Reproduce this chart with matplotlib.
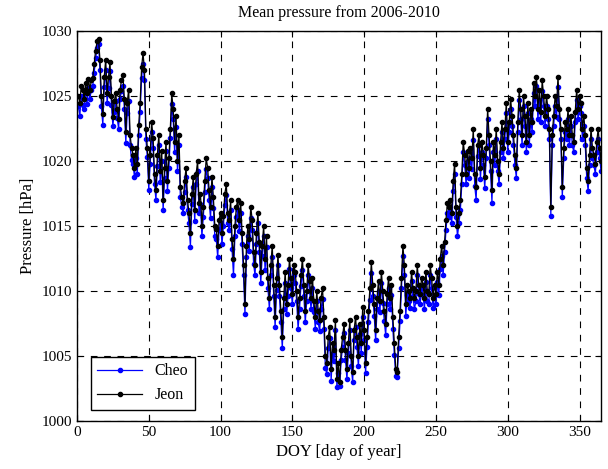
import numpy as np
import matplotlib
matplotlib.use('Agg')
import matplotlib.pyplot as plt

# daily mean pressure (hPa), day 1..366
jeon = [
    1025.0, 1024.5, 1025.8, 1025.5, 1024.8, 1026.0, 1025.2, 1026.3, 1025.5, 1026.2,
    1026.4, 1027.5, 1028.5, 1029.2, 1029.4, 1027.8, 1025.0, 1023.6, 1026.5, 1027.8,
    1025.2, 1026.5, 1027.6, 1025.0, 1023.4, 1024.6, 1025.2, 1024.0, 1023.2, 1025.5,
    1026.2, 1026.6, 1024.8, 1022.2, 1024.5, 1025.5, 1022.0, 1021.0, 1020.5, 1019.5,
    1021.0, 1019.8, 1022.8, 1024.5, 1027.2, 1028.3, 1027.0, 1022.5, 1021.0, 1018.5,
    1020.5, 1023.0, 1021.8, 1019.0, 1017.8, 1020.5, 1022.0, 1019.2, 1020.8, 1017.0,
    1019.5, 1021.5, 1018.5, 1020.2, 1022.5, 1025.2, 1024.0, 1021.5, 1023.5, 1020.0,
    1022.0, 1018.0, 1017.2, 1016.8, 1018.5, 1019.5, 1017.0, 1016.0, 1014.5, 1017.5,
    1018.8, 1016.2, 1019.0, 1020.0, 1016.8, 1017.5, 1015.0, 1016.5, 1018.5, 1020.2,
    1019.5, 1017.8, 1016.5, 1018.8, 1017.2, 1015.0, 1014.8, 1013.5, 1015.5, 1016.0,
    1014.5, 1015.8, 1017.5, 1018.2, 1016.0, 1015.5, 1017.0, 1014.0, 1012.5, 1015.0,
    1016.5, 1017.0, 1015.5, 1016.8, 1014.5, 1012.0, 1009.0, 1013.5, 1015.0, 1014.0,
    1016.5, 1015.5, 1013.0, 1012.0, 1014.5, 1016.0, 1013.8, 1011.5, 1013.5, 1015.0,
    1012.5, 1014.2, 1011.0, 1009.5, 1012.0, 1013.5, 1010.5, 1008.0, 1011.0, 1012.8,
    1010.5, 1008.5, 1006.5, 1009.5, 1011.5, 1009.0, 1010.5, 1012.5, 1011.0, 1009.8,
    1012.0, 1011.5, 1010.0, 1008.0, 1009.5, 1011.2, 1012.5, 1010.5, 1008.5, 1010.0,
    1012.0, 1010.8, 1009.5, 1011.0, 1009.2, 1008.0, 1010.0, 1008.5, 1007.8, 1009.5,
    1010.2, 1008.0, 1005.0, 1004.5, 1006.5, 1007.2, 1004.0, 1006.0, 1005.5, 1007.8,
    1003.2, 1004.5, 1003.0, 1005.5, 1006.5, 1007.5, 1005.5, 1004.0, 1006.0, 1007.8,
    1005.0, 1003.8, 1007.0, 1008.0, 1006.5, 1005.0, 1007.5, 1006.0, 1008.8, 1007.0,
    1004.5, 1006.5, 1008.5, 1010.2, 1012.2, 1010.5, 1009.0, 1007.0, 1009.5, 1010.8,
    1009.2, 1011.5, 1010.0, 1008.5, 1007.5, 1009.8, 1011.0, 1009.5, 1010.5, 1008.0,
    1006.0, 1004.0, 1003.8, 1006.5, 1008.5, 1011.0, 1013.5, 1012.0, 1009.0, 1010.5,
    1010.0, 1009.5, 1011.5, 1010.2, 1009.5, 1010.0, 1012.0, 1010.5, 1009.8, 1011.0,
    1010.5, 1009.5, 1011.5, 1010.0, 1009.8, 1012.0, 1011.0, 1009.5, 1010.5, 1009.8,
    1011.5, 1010.5, 1012.5, 1013.5, 1012.0, 1013.8, 1015.5, 1016.8, 1016.5, 1017.0,
    1016.0, 1018.5, 1019.8, 1016.5, 1015.0, 1016.0, 1017.0, 1019.0, 1021.5, 1020.5,
    1019.0, 1020.8, 1019.5, 1021.0, 1020.2, 1022.5, 1019.0, 1018.0, 1021.2, 1022.0,
    1019.5, 1021.5, 1020.5, 1018.8, 1021.0, 1024.0, 1022.0, 1020.0, 1017.8, 1021.5,
    1020.5, 1022.5, 1020.0, 1019.0, 1021.5, 1023.0, 1021.0, 1022.5, 1024.5, 1021.5,
    1023.0, 1024.8, 1023.5, 1022.0, 1020.5, 1019.5, 1023.0, 1025.5, 1024.0, 1022.0,
    1025.0, 1023.5, 1021.5, 1024.5, 1022.0, 1024.0, 1023.0, 1026.0, 1025.0, 1026.5,
    1024.0, 1025.5, 1023.8, 1026.2, 1025.0, 1023.5, 1025.0, 1024.0, 1022.5, 1016.5,
    1022.0, 1023.5, 1025.0, 1024.2, 1026.5, 1024.0, 1022.5, 1018.0, 1021.0, 1023.0,
    1022.5, 1024.0, 1022.0, 1023.5, 1022.0, 1021.5, 1023.8, 1025.5, 1024.0, 1025.0,
    1024.5, 1022.5, 1023.5, 1022.0, 1019.5, 1018.5, 1020.5, 1022.5, 1021.0, 1020.5,
    1019.8, 1021.5, 1022.5, 1021.0, 1020.0, 1022.5,
]

cheo = [
    1024.2, 1023.5, 1025.0, 1024.3, 1024.0, 1025.2, 1024.4, 1025.6, 1024.8, 1025.5,
    1025.8, 1026.8, 1027.9, 1028.7, 1029.0, 1027.0, 1024.2, 1022.8, 1025.7, 1027.0,
    1024.5, 1025.6, 1026.9, 1024.3, 1022.7, 1023.8, 1024.6, 1023.3, 1022.5, 1024.8,
    1025.4, 1025.8, 1024.0, 1021.4, 1023.7, 1024.6, 1021.2, 1020.1, 1019.8, 1018.8,
    1020.2, 1019.0, 1022.0, 1023.8, 1026.4, 1027.5, 1026.2, 1021.7, 1020.3, 1017.8,
    1019.8, 1022.2, 1021.0, 1018.2, 1017.0, 1019.6, 1021.2, 1018.4, 1020.0, 1016.2,
    1018.7, 1020.8, 1017.7, 1019.5, 1021.8, 1024.4, 1023.2, 1020.7, 1022.6, 1019.2,
    1021.2, 1017.2, 1016.5, 1016.0, 1017.6, 1018.8, 1016.2, 1015.2, 1013.4, 1016.7,
    1018.0, 1015.4, 1018.2, 1019.2, 1016.0, 1016.7, 1014.2, 1015.7, 1017.6, 1019.4,
    1018.7, 1017.0, 1015.6, 1018.0, 1016.4, 1014.2, 1014.0, 1012.6, 1014.7, 1015.2,
    1013.6, 1015.0, 1016.6, 1017.4, 1015.2, 1014.7, 1016.2, 1013.2, 1011.2, 1014.2,
    1015.7, 1016.2, 1014.6, 1016.0, 1013.6, 1011.2, 1008.2, 1012.6, 1014.2, 1013.1,
    1015.6, 1014.7, 1012.1, 1011.2, 1013.6, 1015.2, 1013.0, 1010.6, 1012.7, 1014.2,
    1011.6, 1013.4, 1010.2, 1008.6, 1011.2, 1012.6, 1009.6, 1007.2, 1010.1, 1012.0,
    1009.6, 1007.6, 1005.6, 1008.6, 1010.6, 1008.2, 1009.6, 1011.7, 1010.2, 1009.0,
    1011.2, 1010.6, 1009.2, 1007.1, 1008.6, 1010.4, 1011.6, 1009.6, 1007.6, 1009.2,
    1011.2, 1010.0, 1008.6, 1010.2, 1008.4, 1007.1, 1009.2, 1007.6, 1006.9, 1008.6,
    1009.4, 1007.1, 1004.1, 1003.6, 1005.6, 1006.4, 1003.1, 1005.2, 1004.6, 1007.0,
    1002.6, 1003.7, 1002.7, 1004.7, 1005.7, 1006.8, 1004.7, 1003.2, 1005.2, 1007.0,
    1004.2, 1003.0, 1006.2, 1007.2, 1005.7, 1004.2, 1006.7, 1005.2, 1008.0, 1006.2,
    1003.7, 1005.7, 1007.6, 1009.3, 1011.4, 1009.6, 1008.1, 1006.2, 1008.6, 1010.0,
    1008.4, 1010.6, 1009.1, 1007.7, 1006.6, 1009.0, 1010.2, 1008.6, 1009.7, 1007.1,
    1005.1, 1003.5, 1003.4, 1005.6, 1007.7, 1010.2, 1012.7, 1011.2, 1008.1, 1009.7,
    1009.2, 1008.7, 1010.8, 1009.6, 1008.6, 1009.2, 1011.2, 1009.8, 1009.0, 1010.2,
    1009.7, 1008.6, 1010.7, 1009.2, 1009.0, 1011.2, 1010.2, 1008.7, 1009.7, 1009.0,
    1010.7, 1009.7, 1011.7, 1012.7, 1011.2, 1013.0, 1014.7, 1016.0, 1015.7, 1016.2,
    1015.2, 1017.7, 1019.0, 1015.7, 1014.2, 1015.2, 1016.2, 1018.2, 1020.7, 1019.7,
    1018.2, 1020.0, 1018.7, 1020.2, 1019.4, 1021.6, 1018.1, 1017.0, 1020.4, 1021.2,
    1018.6, 1020.7, 1019.7, 1017.9, 1020.2, 1023.2, 1021.2, 1019.2, 1016.8, 1020.7,
    1019.7, 1021.7, 1019.2, 1018.2, 1020.7, 1022.2, 1020.2, 1021.7, 1023.7, 1020.7,
    1022.2, 1024.0, 1022.7, 1021.2, 1019.7, 1018.7, 1022.2, 1024.7, 1023.2, 1021.2,
    1024.2, 1022.7, 1020.7, 1023.7, 1021.2, 1023.2, 1022.2, 1025.2, 1024.2, 1025.8,
    1023.2, 1024.7, 1023.0, 1025.4, 1024.2, 1022.7, 1024.2, 1023.2, 1021.7, 1015.8,
    1021.2, 1022.7, 1024.2, 1023.4, 1025.7, 1023.2, 1021.7, 1017.2, 1020.2, 1022.2,
    1021.7, 1023.2, 1021.2, 1022.7, 1021.2, 1020.7, 1023.0, 1024.7, 1023.2, 1024.2,
    1023.7, 1021.7, 1022.7, 1021.2, 1018.7, 1017.7, 1019.7, 1021.7, 1020.2, 1019.7,
    1019.0, 1020.7, 1021.7, 1020.2, 1019.2, 1021.7,
]

days = np.arange(1, len(jeon) + 1)

plt.rcParams['font.family'] = ['Liberation Serif', 'DejaVu Serif']

fig = plt.figure(figsize=(6.08, 4.69), dpi=100)
ax = fig.add_axes([0.1266, 0.1023, 0.862, 0.8316])

ax.plot(days, cheo, '-', color='blue', marker='.', markersize=6, linewidth=0.9, label='Cheo')
ax.plot(days, jeon, '-', color='black', marker='.', markersize=6, linewidth=0.9, label='Jeon')

ax.set_xlim(0, 365)
ax.set_ylim(1000, 1030)
ax.set_xticks(np.arange(0, 351, 50))
ax.set_yticks(np.arange(1000, 1031, 5))
ax.grid(True, color='black', linestyle=(0, (6, 6)), linewidth=0.8)
ax.tick_params(direction='in', length=4, labelsize=11, top=True, right=True)
for s in ax.spines.values():
    s.set_linewidth(1)

ax.set_title('Mean pressure from 2006-2010', fontsize=11.5, pad=10)
ax.set_xlabel('DOY [day of year]', fontsize=12)
ax.set_ylabel('Pressure [hPa]', fontsize=12)

leg = ax.legend(loc='lower left', fancybox=False, edgecolor='black', framealpha=1,
                fontsize=11.5, handlelength=2.8, borderaxespad=0.7,
                bbox_to_anchor=(0.005, 0.0))
leg.get_frame().set_linewidth(1)

fig.savefig('out.png', dpi=100)
